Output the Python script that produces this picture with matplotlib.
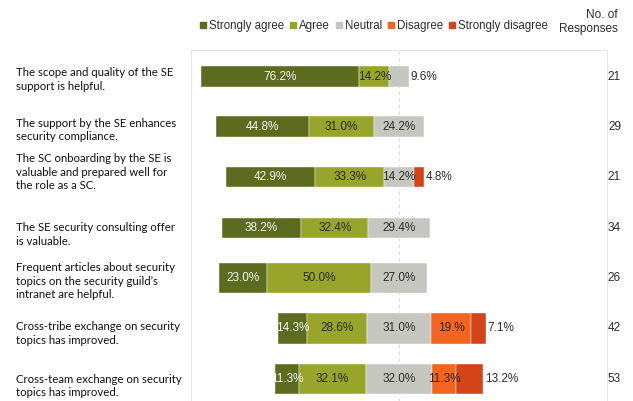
import numpy as np
import matplotlib
matplotlib.use("Agg")
from matplotlib import pyplot as plt
from matplotlib.transforms import blended_transform_factory
from matplotlib.patches import Patch

statements = [
    "The scope and quality of the SE\nsupport is helpful.",
    "The support by the SE enhances\nsecurity compliance.",
    "The SC onboarding by the SE is\nvaluable and prepared well for\nthe role as a SC.",
    "The SE security consulting offer\nis valuable.",
    "Frequent articles about security\ntopics on the security guild\u2019s\nintranet are helpful.",
    "Cross-tribe exchange on security\ntopics has improved.",
    "Cross-team exchange on security\ntopics has improved.",
]
categories = ["Strongly agree", "Agree", "Neutral", "Disagree", "Strongly disagree"]
strongly_agree = [76.2, 44.8, 42.9, 38.2, 23.0, 14.3, 11.3]
agree = [14.2, 31.0, 33.3, 32.4, 50.0, 28.6, 32.1]
neutral = [9.6, 24.2, 14.2, 29.4, 27.0, 31.0, 32.0]
disagree = [0.0, 0.0, 0.0, 0.0, 0.0, 19.0, 11.3]
strongly_disagree = [0.0, 0.0, 4.8, 0.0, 0.0, 7.1, 13.2]
responses = [21, 29, 21, 34, 26, 42, 53]
# label typo as printed in the original
label_override = {(5, 3): "19.%"}

colors = ["#5d6b1f", "#97a52b", "#c7c7c2", "#f2641f", "#d3441a"]
text_colors = ["#f4f4f4", "#2b2b2b", "#2b2b2b", "#2b2b2b", "#2b2b2b"]
bar_heights = [0.42, 0.42, 0.40, 0.40, 0.60, 0.60, 0.60]
label_shift = [0.0, 0.0, -0.16, 0.08, 0.0, 0.04, 0.08]

plt.rcParams['font.family'] = ['Liberation Sans', 'DejaVu Sans']

fig = plt.figure(figsize=(6.33, 4.01), dpi=100)
ax = fig.add_axes([191/633, 0, 416/633, 1 - 50/401])

data = np.array([strongly_agree, agree, neutral, disagree, strongly_disagree]).T
n = len(statements)
y = np.arange(n)

for i in range(n):
    vals = data[i]
    left = -(vals[0] + vals[1] + vals[2] / 2)
    nz = [j for j in range(5) if vals[j] > 0]
    last = nz[-1]
    for j in range(5):
        v = vals[j]
        if v <= 0:
            continue
        ax.barh(y[i], v, left=left, height=bar_heights[i], color=colors[j],
                edgecolor="white", linewidth=0.3)
        lab = label_override.get((i, j), f"{v:.1f}%")
        if j == last and v < 15:
            ax.text(left + v + 0.8, y[i], lab, ha="left", va="center",
                    fontsize=8.5, color="#2b2b2b")
        else:
            ax.text(left + v / 2, y[i], lab, ha="center", va="center",
                    fontsize=8.5, color=text_colors[j])
        left += v

ax.axvline(0, color="#dcdcdc", linestyle=(0, (3, 3)), linewidth=0.8, zorder=0)
ax.set_xlim(-100, 100)
ax.set_ylim(6.44, -0.526)
ax.set_xticks([])
ax.set_yticks([])
for s in ["left", "top", "right"]:
    ax.spines[s].set_color("#e8e8e8")
    ax.spines[s].set_linewidth(0.8)
ax.spines["bottom"].set_visible(False)

trans = blended_transform_factory(fig.transFigure, ax.transData)
for i in range(n):
    ax.text(16/633, y[i] + 0.06 + label_shift[i], statements[i], transform=trans,
            ha="left", va="center", fontsize=8.2, family=["Lato", "DejaVu Sans"],
            color="#111111", linespacing=1.3, clip_on=False)
    ax.text(621/633, y[i], str(responses[i]), transform=trans, ha="right",
            va="center", fontsize=8.5, color="#2b2b2b", clip_on=False)

handles = [Patch(color=c) for c in colors]
fig.legend(handles, categories, loc="center left",
           bbox_to_anchor=(200/633, 1 - 26/401), ncol=5, frameon=False,
           fontsize=8.3, handlelength=0.5, handleheight=0.5,
           handletextpad=0.3, columnspacing=0.5, borderaxespad=0,
           borderpad=0, labelcolor="#2b2b2b")
fig.text(618/633, 1 - 22/401, "No. of\nResponses", ha="right", va="center",
         fontsize=8.5, color="#2b2b2b", linespacing=1.15)

fig.savefig("out.png", dpi=100)
